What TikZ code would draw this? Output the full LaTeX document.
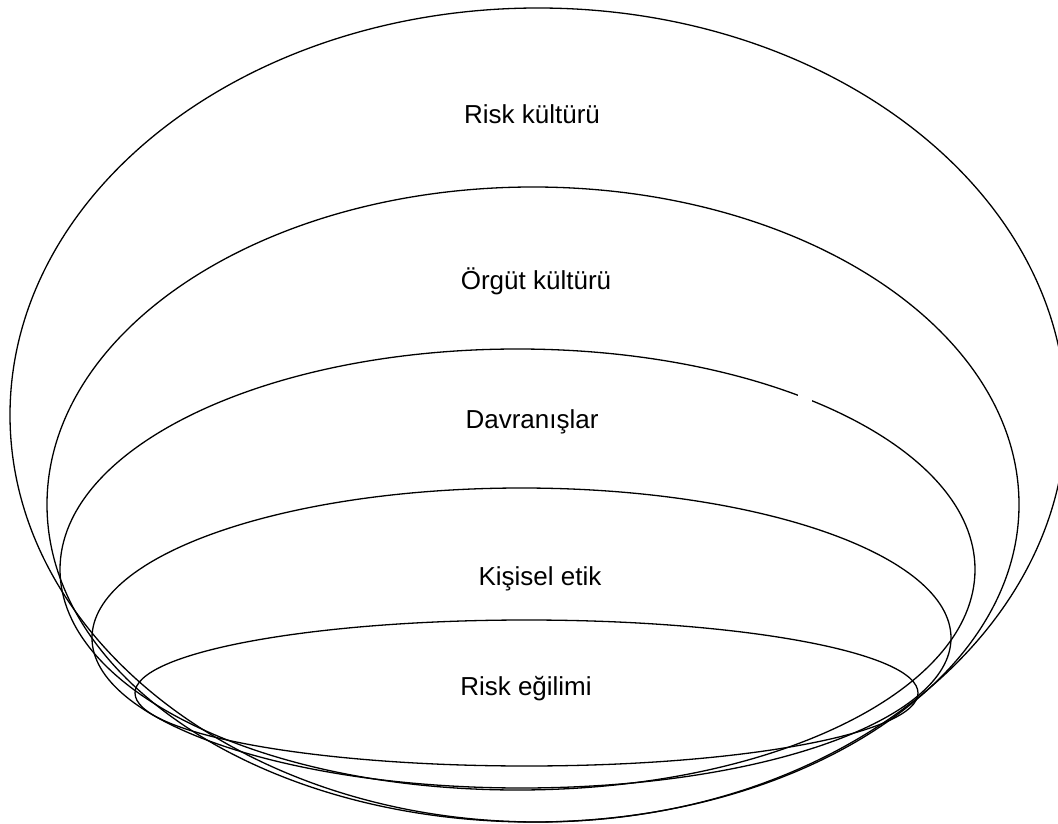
\documentclass[tikz,border=0pt]{standalone}
\usepackage{fontspec}
\setmainfont{Liberation Sans}
\begin{document}
\begin{tikzpicture}[x=1pt,y=-1pt,
  ring/.style={draw=black,line width=1.3pt},
  lbl/.style={font=\fontsize{26}{30}\selectfont,inner sep=0pt,anchor=base}]
\useasboundingbox (0,0) rectangle (1058,824);
\draw[ring] (538,415) ellipse [x radius=528pt,y radius=407pt];
\draw[ring] (533,504.5) ellipse [x radius=486pt,y radius=317.5pt];
\draw[ring] (517.5,569.5) ellipse [x radius=457.5pt,y radius=220.5pt];
\draw[ring] (521.5,638) ellipse [x radius=429.5pt,y radius=150pt];
\draw[ring] (526.5,693) ellipse [x radius=391.5pt,y radius=73pt];
\fill[white] (798,392) rectangle (812,402);
\node[lbl] (rk) at (532,124) {Risk kültürü};
\node[lbl] (ok) at (536,289) {Örgüt kültürü};
\node[lbl] (dv) at (532,428) {Davranışlar};
\node[lbl] (ke) at (540,585) {Kişisel etik};
\node[lbl] (re) at (526,695) {Risk eğilimi};
\end{tikzpicture}
\end{document}
